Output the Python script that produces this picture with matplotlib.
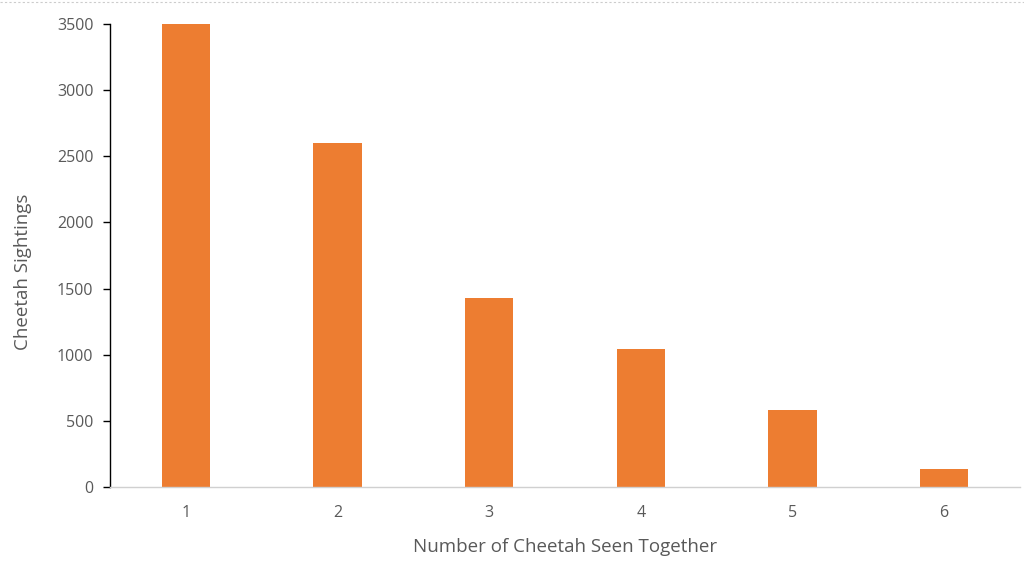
import matplotlib
matplotlib.use("Agg")
import matplotlib.pyplot as plt

groups = [1, 2, 3, 4, 5, 6]
sightings = [3500, 2600, 1430, 1040, 580, 135]
yticks = [0, 500, 1000, 1500, 2000, 2500, 3000, 3500]

plt.rcParams['font.family'] = ['Open Sans', 'DejaVu Sans']
fig = plt.figure(figsize=(10.24, 5.64), dpi=100)
ax = fig.add_axes([110/1024, 1-487/564, 910/1024, 463/564])

ax.bar(groups, sightings, width=0.317, color='#ED7D31')
ax.set_xlim(0.5, 6.5)
ax.set_ylim(0, 3500)
ax.set_yticks(yticks)
ax.set_xticks(groups)
ax.set_xticklabels([str(g) for g in groups])

for s in ['top', 'right']:
    ax.spines[s].set_visible(False)
ax.spines['left'].set_color('black')
ax.spines['left'].set_linewidth(1.0)
ax.spines['bottom'].set_color('#D0D0D0')
ax.spines['bottom'].set_linewidth(1.0)
ax.tick_params(axis='y', length=5, width=1, color='black', labelsize=11.5, labelcolor='#595959', pad=7)
ax.tick_params(axis='x', length=0, labelsize=11.5, labelcolor='#595959', pad=13)

ax.set_ylabel('Cheetah Sightings', fontsize=13.5, color='#595959')
ax.yaxis.set_label_coords(-78/910, 0.465)
ax.set_xlabel('Number of Cheetah Seen Together', fontsize=13.5, color='#595959', labelpad=12)

fig.add_artist(plt.Line2D([0, 1], [1-1.5/564, 1-1.5/564], transform=fig.transFigure,
                          color='#CCCCCC', linestyle=(0, (2, 2)), linewidth=0.8))

fig.savefig('out.png', dpi=100)
